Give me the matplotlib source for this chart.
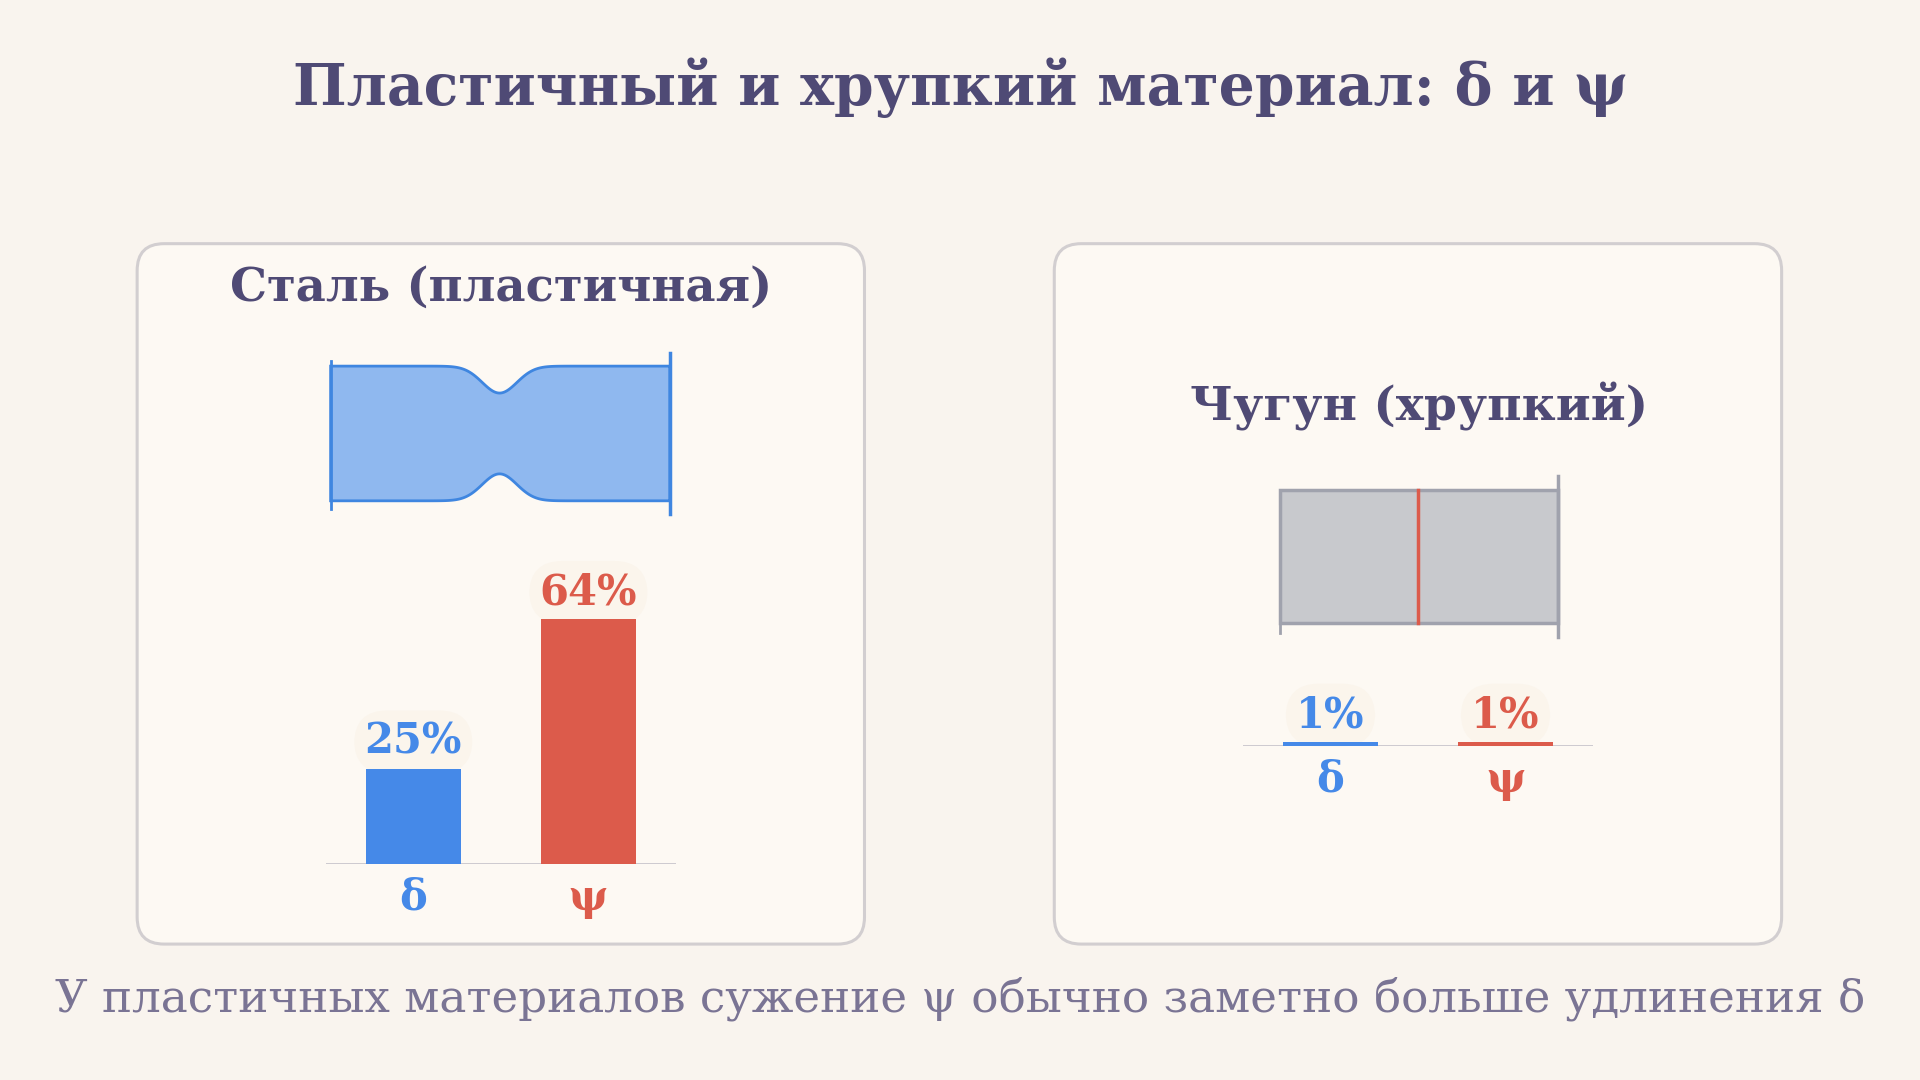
import matplotlib
matplotlib.use("Agg")
import matplotlib.pyplot as plt
from matplotlib.patches import FancyBboxPatch, Polygon
import numpy as np

title = "Пластичный и хрупкий материал: δ и ψ"
footer = "У пластичных материалов сужение ψ обычно заметно больше удлинения δ"
materials = ["Сталь (пластичная)", "Чугун (хрупкий)"]
metrics = ["δ", "ψ"]
steel_vals = [25, 64]
iron_vals = [1, 1]

BG = "#f9f4ee"; PANEL = "#fdf9f3"; EDGE = "#d2ced0"
BLUE = "#4589e8"; RED = "#dc5b4b"; DARK = "#4f4a75"; MUTED = "#7a7494"
W, H = 1568, 882
FONT = "DejaVu Serif"

fig = plt.figure(figsize=(19.2, 10.8), dpi=100, facecolor=BG)
ax = fig.add_axes([0, 0, 1, 1]); ax.set_xlim(0, W); ax.set_ylim(H, 0); ax.axis("off")
s = 1920 / W
def pt(px): return px * s * 0.72

ax.text(784, 72, title, ha="center", va="center", fontsize=pt(46.5), fontweight="bold", color=DARK, family=FONT)
ax.text(784, 816, footer, ha="center", va="center", fontsize=pt(37), color=MUTED, family=FONT)

for x0 in (112, 861):
    ax.add_patch(FancyBboxPatch((x0, 199), 594, 572, boxstyle="round,pad=0,rounding_size=22",
                                fc=PANEL, ec=EDGE, lw=2.2))
ax.text(409, 235, materials[0], ha="center", va="center", fontsize=pt(38), fontweight="bold", color=DARK, family=FONT)
ax.text(1159, 332, materials[1], ha="center", va="center", fontsize=pt(38.5), fontweight="bold", color=DARK, family=FONT)

xs = np.linspace(270, 547, 300)
neck = 22 * np.exp(-((xs - 408) / 20) ** 2)
top = 299 + neck; bot = 409 - neck
poly = np.vstack([np.column_stack([xs, top]), np.column_stack([xs[::-1], bot[::-1]])])
ax.add_patch(Polygon(poly, closed=True, fc="#8fb8ef", ec="#3f86e0", lw=2))
ax.plot([547, 547], [288, 420], color="#3f86e0", lw=2.5)
ax.plot([270, 270], [295, 416], color="#3f86e0", lw=2)

ax.add_patch(Polygon([[1045, 400], [1272, 400], [1272, 509], [1045, 509]], closed=True,
                     fc="#c8c9cd", ec="#a0a2ad", lw=2.5))
ax.plot([1272, 1272], [389, 520], color="#a0a2ad", lw=2.5)
ax.plot([1045, 1045], [400, 517], color="#a0a2ad", lw=2)
ax.plot([1158, 1158], [400, 509], color=RED, lw=2.5)

def bar_panel(x_left, baseline, vals):
    pxpp = 3.13
    y_top = baseline - 100 * pxpp
    bax = fig.add_axes([x_left / W, 1 - baseline / H, 286 / W, (baseline - y_top) / H])
    bax.set_xlim(-0.5, 1.5); bax.set_ylim(0, 100); bax.axis("off")
    bax.patch.set_alpha(0)
    bax.bar([0, 1], vals, width=0.54, color=[BLUE, RED], zorder=3)
    bax.axhline(0, color="#c9c6cc", lw=2, zorder=2)
    for i, (v, c) in enumerate(zip(vals, [BLUE, RED])):
        bax.text(i, v + 7, f"{v}%", ha="center", va="center", fontsize=pt(34), fontweight="bold",
                 color=c, family=FONT, zorder=1,
                 bbox=dict(boxstyle="round,pad=0.25,rounding_size=0.8", fc="#fbf5ec", ec="none"))
    return bax

bar_panel(266, 706, steel_vals)
bar_panel(1015, 609, iron_vals)
for cx, y in ((337.5, 733), (1086.5, 637)):
    ax.text(cx, y, metrics[0], ha="center", va="center", fontsize=pt(34), fontweight="bold", color=BLUE, family=FONT)
    ax.text(cx + 143, y, metrics[1], ha="center", va="center", fontsize=pt(34), fontweight="bold", color=RED, family=FONT)

fig.savefig("out.png", dpi=100, facecolor=BG)
